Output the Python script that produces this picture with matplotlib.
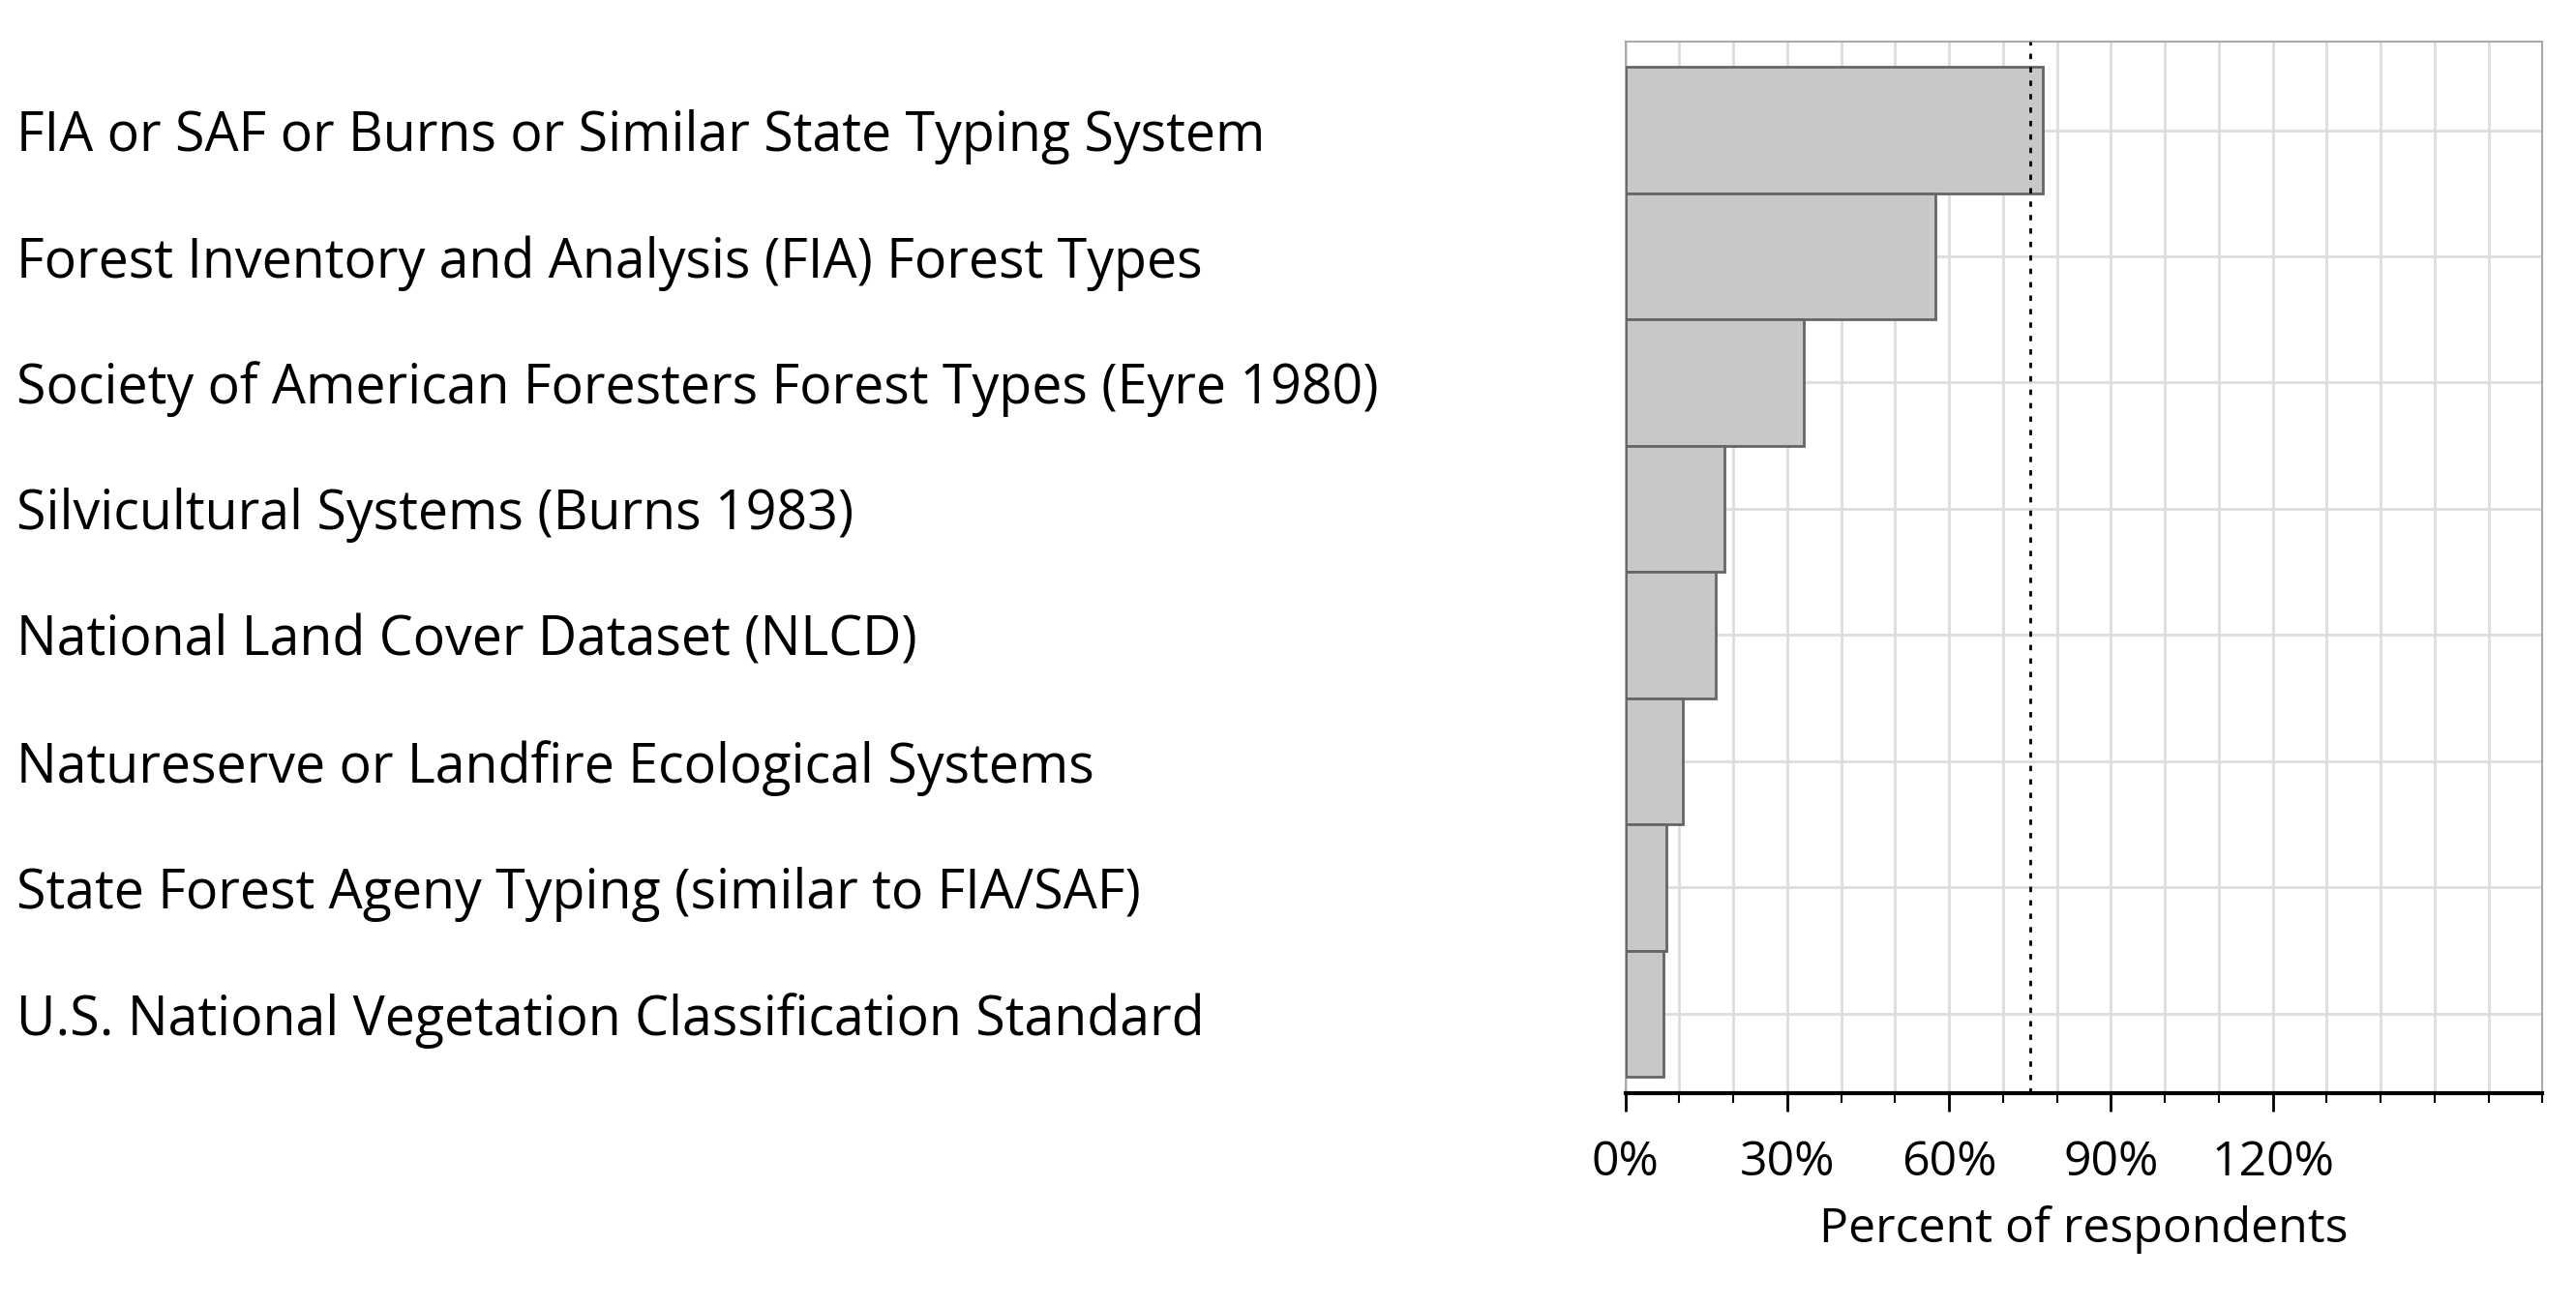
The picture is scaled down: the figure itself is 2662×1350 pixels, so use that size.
import matplotlib
matplotlib.use("Agg")
import matplotlib.pyplot as plt
import numpy as np
from matplotlib.ticker import MultipleLocator

categories = [
    "FIA or SAF or Burns or Similar State Typing System",
    "Forest Inventory and Analysis (FIA) Forest Types",
    "Society of American Foresters Forest Types (Eyre 1980)",
    "Silvicultural Systems (Burns 1983)",
    "National Land Cover Dataset (NLCD)",
    "Natureserve or Landfire Ecological Systems",
    "State Forest Ageny Typing (similar to FIA/SAF)",
    "U.S. National Vegetation Classification Standard",
]
percent = [77.4, 57.5, 33.0, 18.3, 16.8, 10.7, 7.6, 7.0]
ref_line = 75.0
xticks = [0, 30, 60, 90, 120]

plt.rcParams['font.family'] = ['Open Sans', 'DejaVu Sans']
fig = plt.figure(figsize=(26.62, 13.5), dpi=100)
ax = fig.add_axes([0.631, 0.163, 0.356, 0.805])

y = np.arange(len(categories))
ax.barh(y, percent, height=1.0, color='#c8c8c8', edgecolor='#666666', linewidth=2, zorder=3)
ax.axvline(ref_line, color='black', linestyle=(0, (2, 3)), linewidth=2, zorder=4)

ax.set_xlim(0, 170)
ax.set_ylim(len(categories) - 0.37, -0.7)
ax.set_xticks(xticks)
ax.set_xticklabels([f"{t}%" for t in xticks], fontsize=36)
ax.xaxis.set_minor_locator(MultipleLocator(10))
ax.tick_params(axis='x', which='major', length=14, width=2, pad=20)
ax.tick_params(axis='x', which='minor', length=7, width=1.5)
ax.grid(True, which='both', axis='x', color='#dddddd', linewidth=2, zorder=0)
ax.set_yticks(y)
ax.set_yticklabels(categories, fontsize=40, ha='left')
ax.tick_params(axis='y', length=0, pad=1197)
ax.grid(True, axis='y', color='#dddddd', linewidth=2, zorder=0)
ax.set_xlabel("Percent of respondents", fontsize=36, labelpad=14)

for s in ['top', 'right', 'left']:
    ax.spines[s].set_color('#aaaaaa')
    ax.spines[s].set_linewidth(1.5)
ax.spines['bottom'].set_linewidth(3)

fig.savefig("out.png", dpi=100)
